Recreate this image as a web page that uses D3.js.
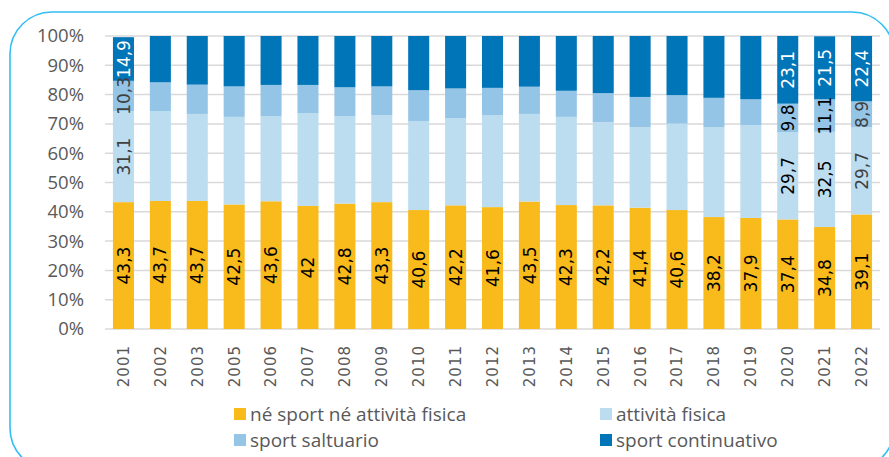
<!DOCTYPE html>
<html>
<head>
<meta charset="utf-8">
<script src="https://cdn.jsdelivr.net/npm/d3@7"></script>
<style>
  body { margin: 0; background: #fff; }
  svg { display: block; }
</style>
</head>
<body>
<div class="container"></div>
<script>
var years = ["2001","2002","2003","2005","2006","2007","2008","2009","2010","2011","2012","2013","2014","2015","2016","2017","2018","2019","2020","2021","2022"];
var nessuno     = [43.3,43.7,43.7,42.5,43.6,42,42.8,43.3,40.6,42.2,41.6,43.5,42.3,42.2,41.4,40.6,38.2,37.9,37.4,34.8,39.1];
var attivita    = [31.1,30.7,29.7,29.9,29.1,31.6,29.9,29.7,30.4,29.8,31.3,29.9,30.1,28.4,27.5,29.5,30.7,31.7,29.7,32.5,29.7];
var saltuario   = [10.3,9.8,10.0,10.4,10.6,9.7,9.8,9.8,10.5,10.1,9.4,9.3,8.9,9.9,10.3,9.7,10.0,8.8,9.8,11.1,8.9];
var continuativo= [14.9,15.8,16.6,17.2,16.7,16.7,17.5,17.2,18.5,17.9,17.7,17.3,18.7,19.5,20.8,20.2,21.1,21.6,23.1,21.5,22.4];
var seriesNames = ["né sport né attività fisica","attività fisica","sport saltuario","sport continuativo"];
var yTicks = [0,10,20,30,40,50,60,70,80,90,100];
// years whose non-yellow segments carry a label
var labelledYears = ["2001","2020","2021","2022"];

var colors = ["#F9BA1C", "#BCDDF0", "#95C5E6", "#0075B8"];
var W = 889, H = 457;

var svg = d3.select(".container").append("svg")
  .attr("width", W).attr("height", H);

// frame
svg.append("rect")
  .attr("x", 10).attr("y", 12)
  .attr("width", 884).attr("height", 458)
  .attr("rx", 42).attr("ry", 42)
  .attr("fill", "none")
  .attr("stroke", "#33BDF2")
  .attr("stroke-width", 1.6);

var x = d3.scaleBand().domain(years).range([105, 880]).paddingInner(0.43).paddingOuter(0.215);
var y = d3.scaleLinear().domain([0, 100]).range([329, 36]);

// gridlines
svg.append("g").selectAll("line")
  .data(yTicks).enter().append("line")
  .attr("x1", 105).attr("x2", 880)
  .attr("y1", function(d) { return y(d); })
  .attr("y2", function(d) { return y(d); })
  .attr("stroke", "#D9D9D9")
  .attr("stroke-width", 1.5);

// y axis labels
svg.append("g").selectAll("text")
  .data(yTicks).enter().append("text")
  .attr("x", 84)
  .attr("y", function(d) { return y(d); })
  .attr("dy", "0.35em")
  .attr("text-anchor", "end")
  .style("font-family", "'Open Sans', sans-serif")
  .style("font-size", "18.5px")
  .attr("fill", "#595959")
  .text(function(d) { return d + "%"; });

// stacked data
var table = years.map(function(yr, i) {
  return {year: yr, s0: nessuno[i], s1: attivita[i], s2: saltuario[i], s3: continuativo[i]};
});
var stack = d3.stack().keys(["s0","s1","s2","s3"]);
var layers = stack(table);

var fmt = function(v) { return String(v).replace(".", ","); };

layers.forEach(function(layer, k) {
  svg.append("g").selectAll("rect")
    .data(layer).enter().append("rect")
    .attr("x", function(d) { return x(d.data.year); })
    .attr("width", x.bandwidth())
    .attr("y", function(d) { return y(Math.min(d[1], 100)); })
    .attr("height", function(d) { return y(d[0]) - y(Math.min(d[1], 100)); })
    .attr("fill", colors[k]);
});

layers.forEach(function(layer, k) {
  var lab = layer.filter(function(d) {
    return k === 0 || labelledYears.indexOf(d.data.year) >= 0;
  });
  svg.append("g").selectAll("text")
    .data(lab).enter().append("text")
    .attr("transform", function(d) {
      var cx = x(d.data.year) + x.bandwidth() / 2;
      var cy = (y(d[0]) + y(Math.min(d[1], 100))) / 2;
      return "translate(" + cx + "," + cy + ") rotate(-90)";
    })
    .attr("text-anchor", "middle")
    .attr("dy", "0.36em")
    .style("font-family", "'DejaVu Sans', sans-serif")
    .style("font-size", "17px")
    .attr("fill", function(d) {
      if (k === 3) return "#FFFFFF";
      if (k === 0) return "#000000";
      if (d.data.year === "2001" || d.data.year === "2022") return "#404040";
      return "#000000";
    })
    .text(function(d) { return fmt(d.data["s" + k]); });
});

// x axis labels
svg.append("g").selectAll("text")
  .data(years).enter().append("text")
  .attr("transform", function(d) {
    return "translate(" + (x(d) + x.bandwidth() / 2) + ",345) rotate(-90)";
  })
  .attr("text-anchor", "end")
  .attr("dy", "0.36em")
  .style("font-family", "'DejaVu Sans', sans-serif")
  .style("font-size", "15px")
  .style("letter-spacing", "1px")
  .attr("fill", "#595959")
  .text(function(d) { return d; });

// legend
var legPos = [[234, 414], [600, 414], [234, 440], [600, 440]];
var leg = svg.append("g").selectAll("g")
  .data(seriesNames).enter().append("g")
  .attr("transform", function(d, i) { return "translate(" + legPos[i][0] + "," + legPos[i][1] + ")"; });
leg.append("rect")
  .attr("x", 0).attr("y", -6)
  .attr("width", 12).attr("height", 12)
  .attr("fill", function(d, i) { return colors[i]; });
leg.append("text")
  .attr("x", 16)
  .attr("dy", "0.35em")
  .style("font-family", "'Liberation Sans Narrow', 'Open Sans', sans-serif")
  .style("font-size", "19px")
  .attr("fill", "#595959")
  .text(function(d) { return d; });
</script>
</body>
</html>
